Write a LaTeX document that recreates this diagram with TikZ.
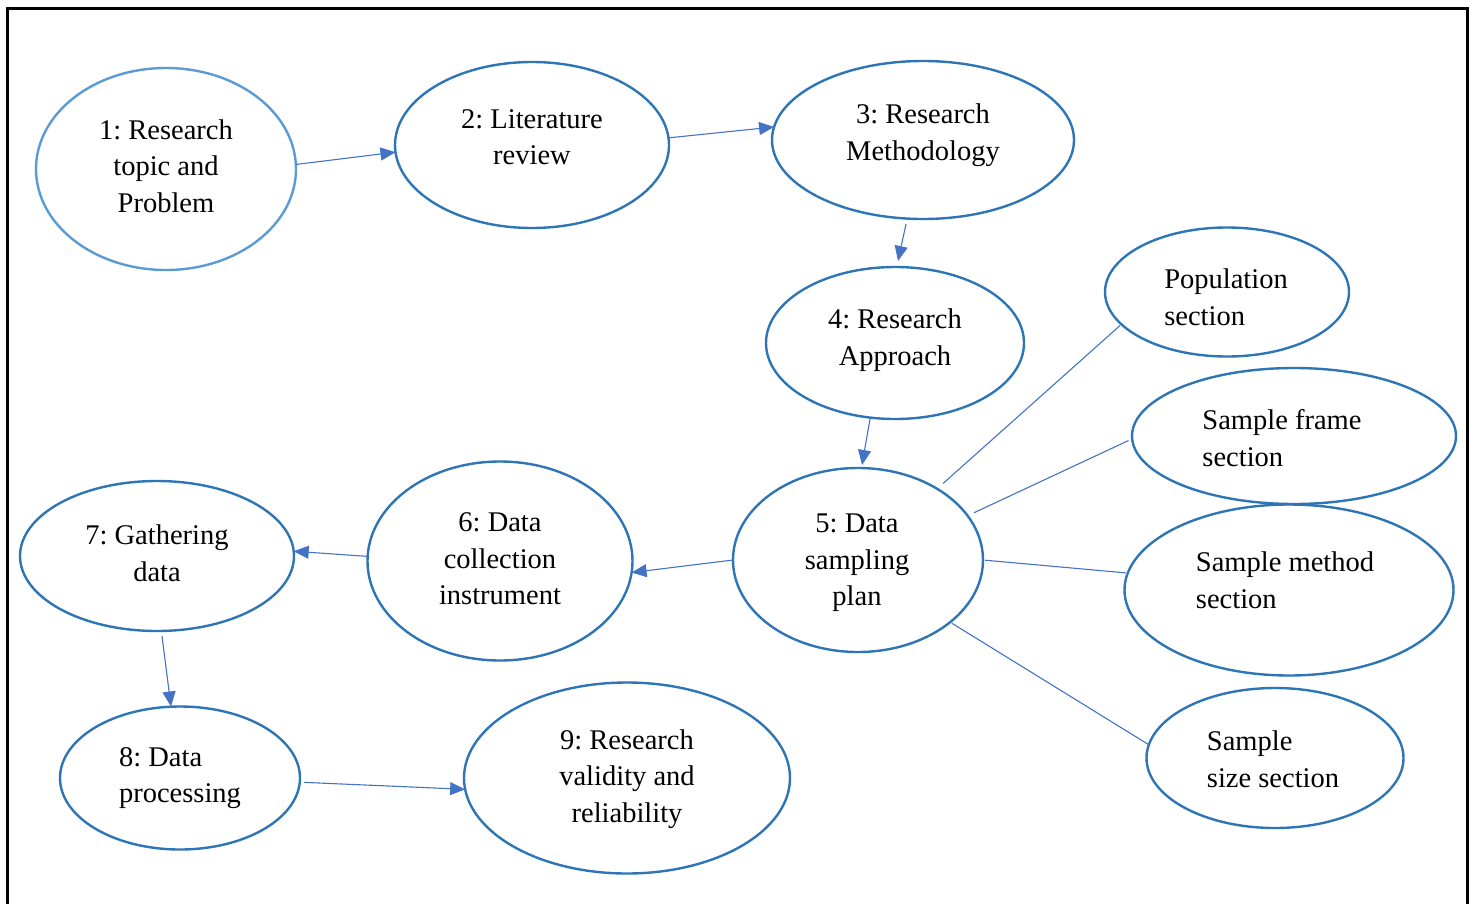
\documentclass[tikz,border=0pt]{standalone}
\usepackage{fontspec}
\setmainfont{Liberation Serif}
\frenchspacing
\usetikzlibrary{arrows.meta,shapes.geometric}
\definecolor{ellblue}{HTML}{2E75B6}
\definecolor{ellblueL}{HTML}{5B9BD5}
\definecolor{arrblue}{HTML}{4472C4}
\tikzset{
  ell/.style={ellipse, draw=ellblue, line width=2.4pt, inner sep=0pt, outer sep=0pt},
  txt/.style={inner sep=0pt, font=\fontsize{28.5}{36.5}\selectfont\frenchspacing, align=center},
  txtl/.style={txt, align=left},
  conn/.style={draw=arrblue, line width=1.1pt},
  arr/.style={conn, -{Triangle[length=15pt,width=13pt]}}
}
\begin{document}
\begin{tikzpicture}[x=1pt,y=-1pt]
\useasboundingbox (0,0) rectangle (1475,903);
\draw[line width=3pt] (7,915) -- (7,8) -- (1467,8) -- (1467,915);

% ellipses
\node[ell, draw=ellblueL, minimum width=260, minimum height=202] (e1) at (166,169) {};
\node[ell, minimum width=274, minimum height=166] (e2) at (532,145) {};
\node[ell, minimum width=302, minimum height=158] (e3) at (923,140) {};
\node[ell, minimum width=258, minimum height=152] (e4) at (895,343) {};
\node[ell, minimum width=250, minimum height=184] (e5) at (858,560) {};
\node[ell, minimum width=265, minimum height=199] (e6) at (500,561) {};
\node[ell, minimum width=274, minimum height=150] (e7) at (157,556) {};
\node[ell, minimum width=240, minimum height=143] (e8) at (180,778) {};
\node[ell, minimum width=326, minimum height=191] (e9) at (627,778) {};
\node[ell, minimum width=244, minimum height=129] (pop) at (1227,292) {};
\node[ell, minimum width=324, minimum height=136] (frame) at (1294,436) {};
\node[ell, minimum width=329, minimum height=171] (method) at (1289,590) {};
\node[ell, minimum width=257, minimum height=140] (size) at (1275,758) {};

% texts
\node[txt] (t1) at (166,166) {1: Research\\topic and\\Problem};
\node[txt] (t2) at (532,137) {2: Literature\\review};
\node[txt] (t3) at (923,135) {3: Research\\Methodology};
\node[txt] (t4) at (895,340) {4: Research\\Approach};
\node[txt] (t5) at (857,563) {5: Data\\sampling\\plan};
\node[txt] (t6) at (500,559) {6: Data\\collection\\instrument};
\node[txt] (t7) at (157,553) {7: Gathering\\data};
\node[txtl] (t8) at (180,778) {8: Data\\processing};
\node[txt] (t9) at (627,779) {9: Research\\validity and\\reliability};
\node[txtl] (tpop) at (1226,297) {Population\\section};
\node[txtl] (tframe) at (1282,438) {Sample frame\\section};
\node[txtl] (tmethod) at (1285,580) {Sample method\\section};
\node[txtl] (tsize) at (1273,759) {Sample\\size section};

% arrows
\draw[arr] (e1.2.6) -- (e2.183.7);
\draw[arr] (e2.3.7) -- (e3.175.5);
\draw[arr] ([xshift=-17pt,yshift=-5pt]e3.south) -- ([xshift=3pt,yshift=6pt]e4.north);
\draw[arr] ([xshift=-25pt]e4.south) -- ([xshift=4pt,yshift=3pt]e5.north);
\draw[arr] (e5.180.5) -- (e6.355.8);
\draw[arr] (e6.178.7) -- (e7.2.9);
\draw[arr] ([xshift=5pt,yshift=-5pt]e7.south) -- ([xshift=-9pt]e8.north);
\draw[arr, shorten <=4pt] (e8.358.6) -- (e9.184.6);

% plain links
\draw[conn, shorten <=8pt, shorten >=2pt] (e5.42.2) -- (pop.197);
\draw[conn, shorten <=7pt, shorten >=4pt] (e5.22.7) -- (frame.181.7);
\draw[conn, shorten <=2pt, shorten >=2pt] (e5.0) -- (method.174.8);
\draw[conn, shorten <=2pt] (e5.326.9) -- (size.174.2);
\end{tikzpicture}
\end{document}
